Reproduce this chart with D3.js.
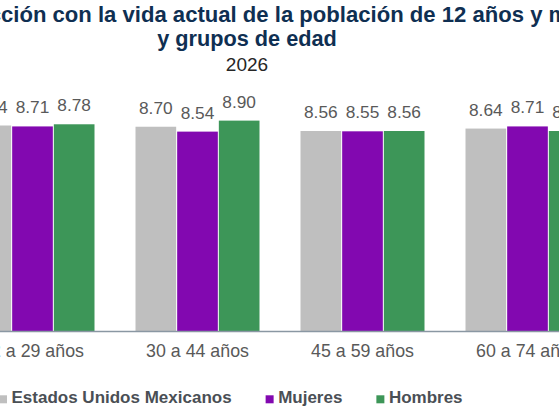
<!DOCTYPE html>
<html>
<head>
<meta charset="utf-8">
<script src="https://cdn.jsdelivr.net/npm/d3@7"></script>
<style>
  html, body { margin: 0; padding: 0; background: #fff; overflow: hidden; }
  svg { display: block; font-family: "Liberation Sans", Arial, sans-serif; }
</style>
</head>
<body>
<svg id="chart" width="559" height="416"></svg>
<script>
// ---- data ----
const categories = ["12 a 29 años", "30 a 44 años", "45 a 59 años", "60 a 74 años"];
const seriesNames = ["Estados Unidos Mexicanos", "Mujeres", "Hombres"];
const valuesNacional = [8.74, 8.70, 8.56, 8.64];
const valuesMujeres  = [8.71, 8.54, 8.55, 8.71];
const valuesHombres  = [8.78, 8.90, 8.56, 8.56];
const titleLines = ["Satisfacción con la vida actual de la población de 12 años y más", "y grupos de edad"];
const subtitle = "2026";
const yDomain = [2, 10];

// ---- styles ----
const colors = ["#bfbfbf", "#8208b0", "#3d9658"];
const seriesValues = [valuesNacional, valuesMujeres, valuesHombres];

const svg = d3.select("#chart");

const x0 = d3.scaleBand()
  .domain(categories)
  .range([-50, 610])
  .paddingInner(40 / 165)
  .paddingOuter(20 / 165);

const x1 = d3.scaleBand()
  .domain(seriesNames)
  .range([0, x0.bandwidth()])
  .padding(0);

const y = d3.scaleLinear().domain(yDomain).range([331.5, 87]);

const rows = categories.map((c, i) => ({
  cat: c,
  vals: seriesNames.map((s, j) => ({ s, j, v: seriesValues[j][i] }))
}));

const g = svg.append("g");
const groups = g.selectAll("g.grp").data(rows).join("g")
  .attr("class", "grp")
  .attr("transform", d => `translate(${x0(d.cat)},0)`);

groups.selectAll("rect").data(d => d.vals).join("rect")
  .attr("x", d => x1(d.s) + 0.5)
  .attr("width", x1.bandwidth() - 1)
  .attr("y", d => y(d.v))
  .attr("height", d => y(yDomain[0]) - y(d.v))
  .attr("fill", d => colors[d.j]);

groups.selectAll("text.val").data(d => d.vals).join("text")
  .attr("class", "val")
  .attr("x", d => x1(d.s) + x1.bandwidth() / 2)
  .attr("y", d => y(d.v) - 13)
  .attr("text-anchor", "middle")
  .attr("font-size", 17.3)
  .attr("fill", "#595959")
  .text(d => d.v.toFixed(2));

// x axis
const xAxis = d3.axisBottom(x0).tickSize(0).tickPadding(13);
const ax = svg.append("g").attr("transform", `translate(0,${y(yDomain[0])})`).call(xAxis);
ax.select(".domain").remove();
ax.append("line").attr("x1", 0).attr("x2", 559).attr("y1", 0).attr("y2", 0)
  .attr("stroke", "#8a97a3").attr("stroke-width", 1.5);
ax.selectAll(".tick text")
  .attr("font-size", 17.8)
  .attr("font-family", "\"Liberation Sans\", Arial, sans-serif")
  .attr("fill", "#595959")
  .attr("dy", "0.71em");

// title
const titleColor = "#0f2f52";
const tfs = 22.1;
const prefix = "Satisfac";
const meas = svg.append("text").attr("font-size", tfs).attr("font-weight", "bold").text(prefix);
const prefW = meas.node().getComputedTextLength();
meas.remove();
svg.append("text")
  .attr("x", 1 - prefW).attr("y", 21.5)
  .attr("font-size", tfs).attr("font-weight", "bold").attr("fill", titleColor)
  .text(titleLines[0]);
svg.append("text")
  .attr("x", 247).attr("y", 45.8).attr("text-anchor", "middle")
  .attr("font-size", 21.7).attr("font-weight", "bold").attr("fill", titleColor)
  .text(titleLines[1]);
svg.append("text")
  .attr("x", 247).attr("y", 70.6).attr("text-anchor", "middle")
  .attr("font-size", 19).attr("fill", "#262626")
  .text(subtitle);

// legend
const leg = svg.append("g");
let lx = -1;
seriesNames.forEach((s, j) => {
  leg.append("rect").attr("x", lx).attr("y", 395.3).attr("width", 8).attr("height", 8).attr("fill", colors[j]);
  const t = leg.append("text").attr("x", lx + 12.5).attr("y", 403.4)
    .attr("font-size", 17).attr("font-weight", "bold").attr("fill", "#4a4f55").text(s);
  lx = lx + 12.5 + t.node().getComputedTextLength() + 34;
});
</script>
</body>
</html>
